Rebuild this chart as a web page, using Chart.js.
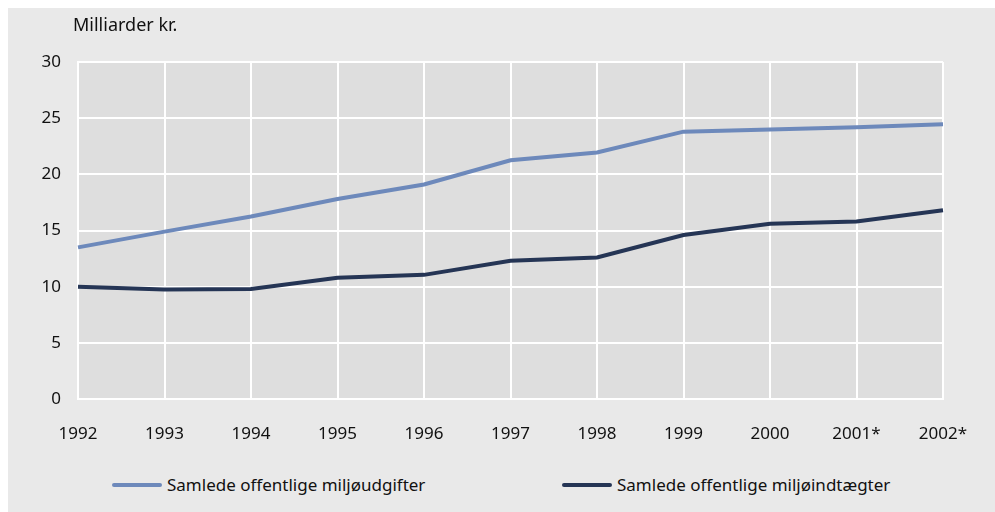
<!DOCTYPE html>
<html>
<head>
<meta charset="utf-8">
<script src="https://cdn.jsdelivr.net/npm/chart.js@4"></script>
<style>
  body { margin: 0; background: #fff; font-family: "Noto Sans", sans-serif; }
  #panel { position: absolute; left: 8px; top: 8px; width: 987px; height: 504px; background: #e9e9e9; }
  #wrap { position: absolute; left: 0; top: 0; width: 987px; height: 450px; }
  #unit { position: absolute; left: 65px; top: 4px; font-size: 18px; color: #111; }
  .leg { position: absolute; top: 464px; font-size: 17px; color: #111; white-space: nowrap; line-height: 26px; }
  .leg span.ln { display: inline-block; width: 50px; height: 4px; border-radius: 2px; vertical-align: middle; margin-right: 5px; position: relative; top: -1px; }
</style>
</head>
<body>
<div id="panel">
  <div id="wrap"><canvas id="chart"></canvas></div>
  <div id="unit">Milliarder kr.</div>
  <div class="leg" style="left:104px"><span class="ln" style="background:#6d89bb"></span>Samlede offentlige miljøudgifter</div>
  <div class="leg" style="left:554px"><span class="ln" style="background:#253555"></span>Samlede offentlige miljøindtægter</div>
</div>
<script>
// årstal og værdier (milliarder kr.)
const years = ['1992','1993','1994','1995','1996','1997','1998','1999','2000','2001*','2002*'];
const udgifter = [13.5, 14.9, 16.25, 17.8, 19.1, 21.25, 21.95, 23.8, 24.0, 24.2, 24.45];
const indtaegter = [10.0, 9.75, 9.8, 10.8, 11.05, 12.3, 12.6, 14.6, 15.6, 15.8, 16.8];
const yTicks = [0, 5, 10, 15, 20, 25, 30];

const tickFont = { family: 'Noto Sans', size: 17 };

// grå baggrund i plotområdet
const plotBg = {
  id: 'plotBg',
  beforeDraw(chart) {
    const a = chart.chartArea, c = chart.ctx;
    c.save();
    c.fillStyle = '#dedede';
    c.fillRect(a.left, a.top, a.right - a.left, a.bottom - a.top);
    c.restore();
  }
};

const ctx = document.getElementById('chart').getContext('2d');
new Chart(ctx, {
  type: 'line',
  data: {
    labels: years,
    datasets: [{
      label: 'Samlede offentlige miljøudgifter',
      data: udgifter,
      borderColor: '#6d89bb',
      borderWidth: 4,
      pointRadius: 0,
      tension: 0
    }, {
      label: 'Samlede offentlige miljøindtægter',
      data: indtaegter,
      borderColor: '#253555',
      borderWidth: 4,
      pointRadius: 0,
      tension: 0
    }]
  },
  options: {
    responsive: true,
    maintainAspectRatio: false,
    animation: false,
    layout: { padding: { left: 0, right: 52, top: 54, bottom: 0 } },
    plugins: { legend: { display: false }, tooltip: { enabled: false } },
    scales: {
      x: {
        offset: false,
        grid: { color: '#ffffff', lineWidth: 2, drawTicks: false },
        border: { color: '#ffffff', width: 2 },
        ticks: { color: '#111', font: tickFont, padding: 25, maxRotation: 0, autoSkip: false },
        afterFit(s) { s.height = 59; }
      },
      y: {
        min: 0, max: 30,
        afterBuildTicks(s) { s.ticks = yTicks.map(v => ({ value: v })); },
        grid: { color: '#ffffff', lineWidth: 2, drawTicks: false },
        border: { color: '#ffffff', width: 2 },
        ticks: { color: '#111', font: tickFont, padding: 17 },
        afterFit(s) { s.width = 70; }
      }
    }
  },
  plugins: [plotBg]
});
</script>
</body>
</html>
